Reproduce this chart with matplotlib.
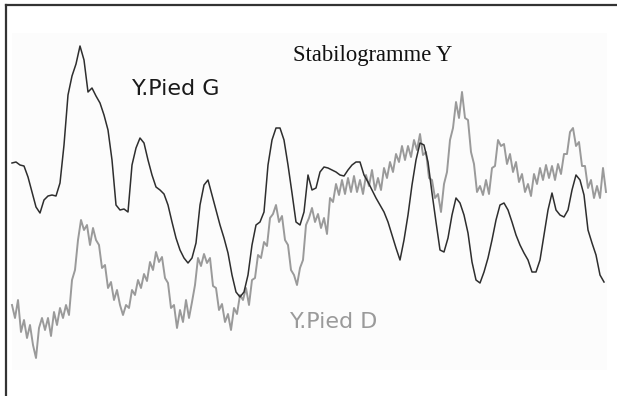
import numpy as np
import matplotlib
matplotlib.use("Agg")
import matplotlib.pyplot as plt
from matplotlib.lines import Line2D
from matplotlib.patches import Rectangle

# Stabilogram Y signals (vertical position, inverted axis)
pied_g = [163, 162, 165, 166, 177, 192, 207, 213, 200, 196, 195, 196, 183, 145, 95, 76,
          64, 46, 60, 92, 88, 96, 103, 115, 130, 160, 205, 210, 209, 212, 165, 148,
          138, 143, 160, 175, 187, 190, 194, 205, 222, 238, 250, 258, 263, 258, 243, 205,
          185, 180, 195, 210, 225, 238, 253, 275, 292, 297, 292, 275, 245, 225, 222, 212,
          165, 140, 128, 128, 140, 165, 193, 222, 225, 212, 175, 190, 188, 172, 167, 168,
          170, 172, 175, 176, 170, 165, 162, 162, 175, 182, 190, 198, 205, 212, 222, 235,
          248, 260, 240, 215, 185, 160, 143, 145, 162, 193, 222, 250, 252, 238, 215, 198,
          203, 215, 233, 262, 280, 283, 272, 258, 240, 220, 205, 203, 210, 222, 235, 245,
          253, 260, 272, 272, 260, 235, 210, 193, 210, 215, 217, 210, 190, 175, 180, 195,
          230, 243, 255, 275, 282]

pied_d = [305, 318, 300, 332, 320, 338, 325, 345, 358, 328, 318, 330, 318, 336, 312, 325,
          308, 318, 305, 315, 280, 270, 240, 220, 230, 225, 245, 228, 240, 245, 268, 265,
          288, 282, 300, 290, 305, 315, 305, 308, 290, 295, 280, 288, 274, 281, 262, 270,
          252, 262, 257, 278, 283, 308, 305, 328, 310, 322, 300, 318, 302, 285, 258, 266,
          254, 263, 258, 286, 288, 310, 304, 322, 314, 330, 308, 314, 295, 300, 288, 305,
          280, 278, 255, 258, 242, 246, 218, 214, 205, 222, 216, 240, 245, 270, 275, 285,
          268, 260, 225, 218, 208, 222, 214, 228, 218, 234, 198, 202, 184, 195, 180, 194,
          178, 192, 176, 192, 180, 194, 175, 186, 170, 190, 178, 190, 168, 178, 162, 172,
          154, 162, 146, 160, 146, 157, 140, 150, 134, 155, 152, 178, 180, 198, 194, 212,
          184, 172, 140, 128, 102, 118, 92, 118, 120, 152, 164, 192, 186, 195, 180, 194,
          168, 166, 140, 146, 144, 164, 154, 172, 162, 182, 174, 192, 184, 196, 174, 184,
          168, 180, 165, 178, 166, 180, 164, 174, 154, 154, 132, 128, 146, 142, 166, 166,
          188, 180, 198, 186, 198, 168, 192]

title = "Stabilogramme Y"
label_g = "Y.Pied G"
label_d = "Y.Pied D"

W, H = 617, 396
fig = plt.figure(figsize=(W / 100, H / 100), dpi=100)
fig.patch.set_facecolor("white")
ax = fig.add_axes([0, 0, 1, 1])
ax.set_xlim(-12, W - 12)
ax.set_ylim(H, 0)
ax.axis("off")

# faint plot area
ax.add_patch(Rectangle((0, 33), 595, 337, facecolor="#fcfcfc", edgecolor="none", zorder=0))

t_d = np.arange(len(pied_d)) * 3
t_g = np.arange(len(pied_g)) * 4

ax.plot(t_d, pied_d, color="#9a9a9a", lw=1.4, zorder=2)
ax.plot(t_g, pied_g, color="#2e2e2e", lw=1.1, zorder=3)

ax.text(281, 55, title, fontsize=16.3, family="Liberation Serif", color="#111111",
        ha="left", va="center")
ax.text(120, 89, label_g, fontsize=16, family="DejaVu Sans", color="#1a1a1a",
        ha="left", va="center")
ax.text(278, 322, label_d, fontsize=16, family="DejaVu Sans", color="#9a9a9a",
        ha="left", va="center")

# frame (left and top border)
fig.add_artist(Line2D([6 / W, 6 / W], [0, 1 - 5 / H], color="#333333", lw=1.6))
fig.add_artist(Line2D([6 / W, 1], [1 - 5 / H, 1 - 5 / H], color="#333333", lw=1.6))

fig.savefig("out.png", dpi=100)
